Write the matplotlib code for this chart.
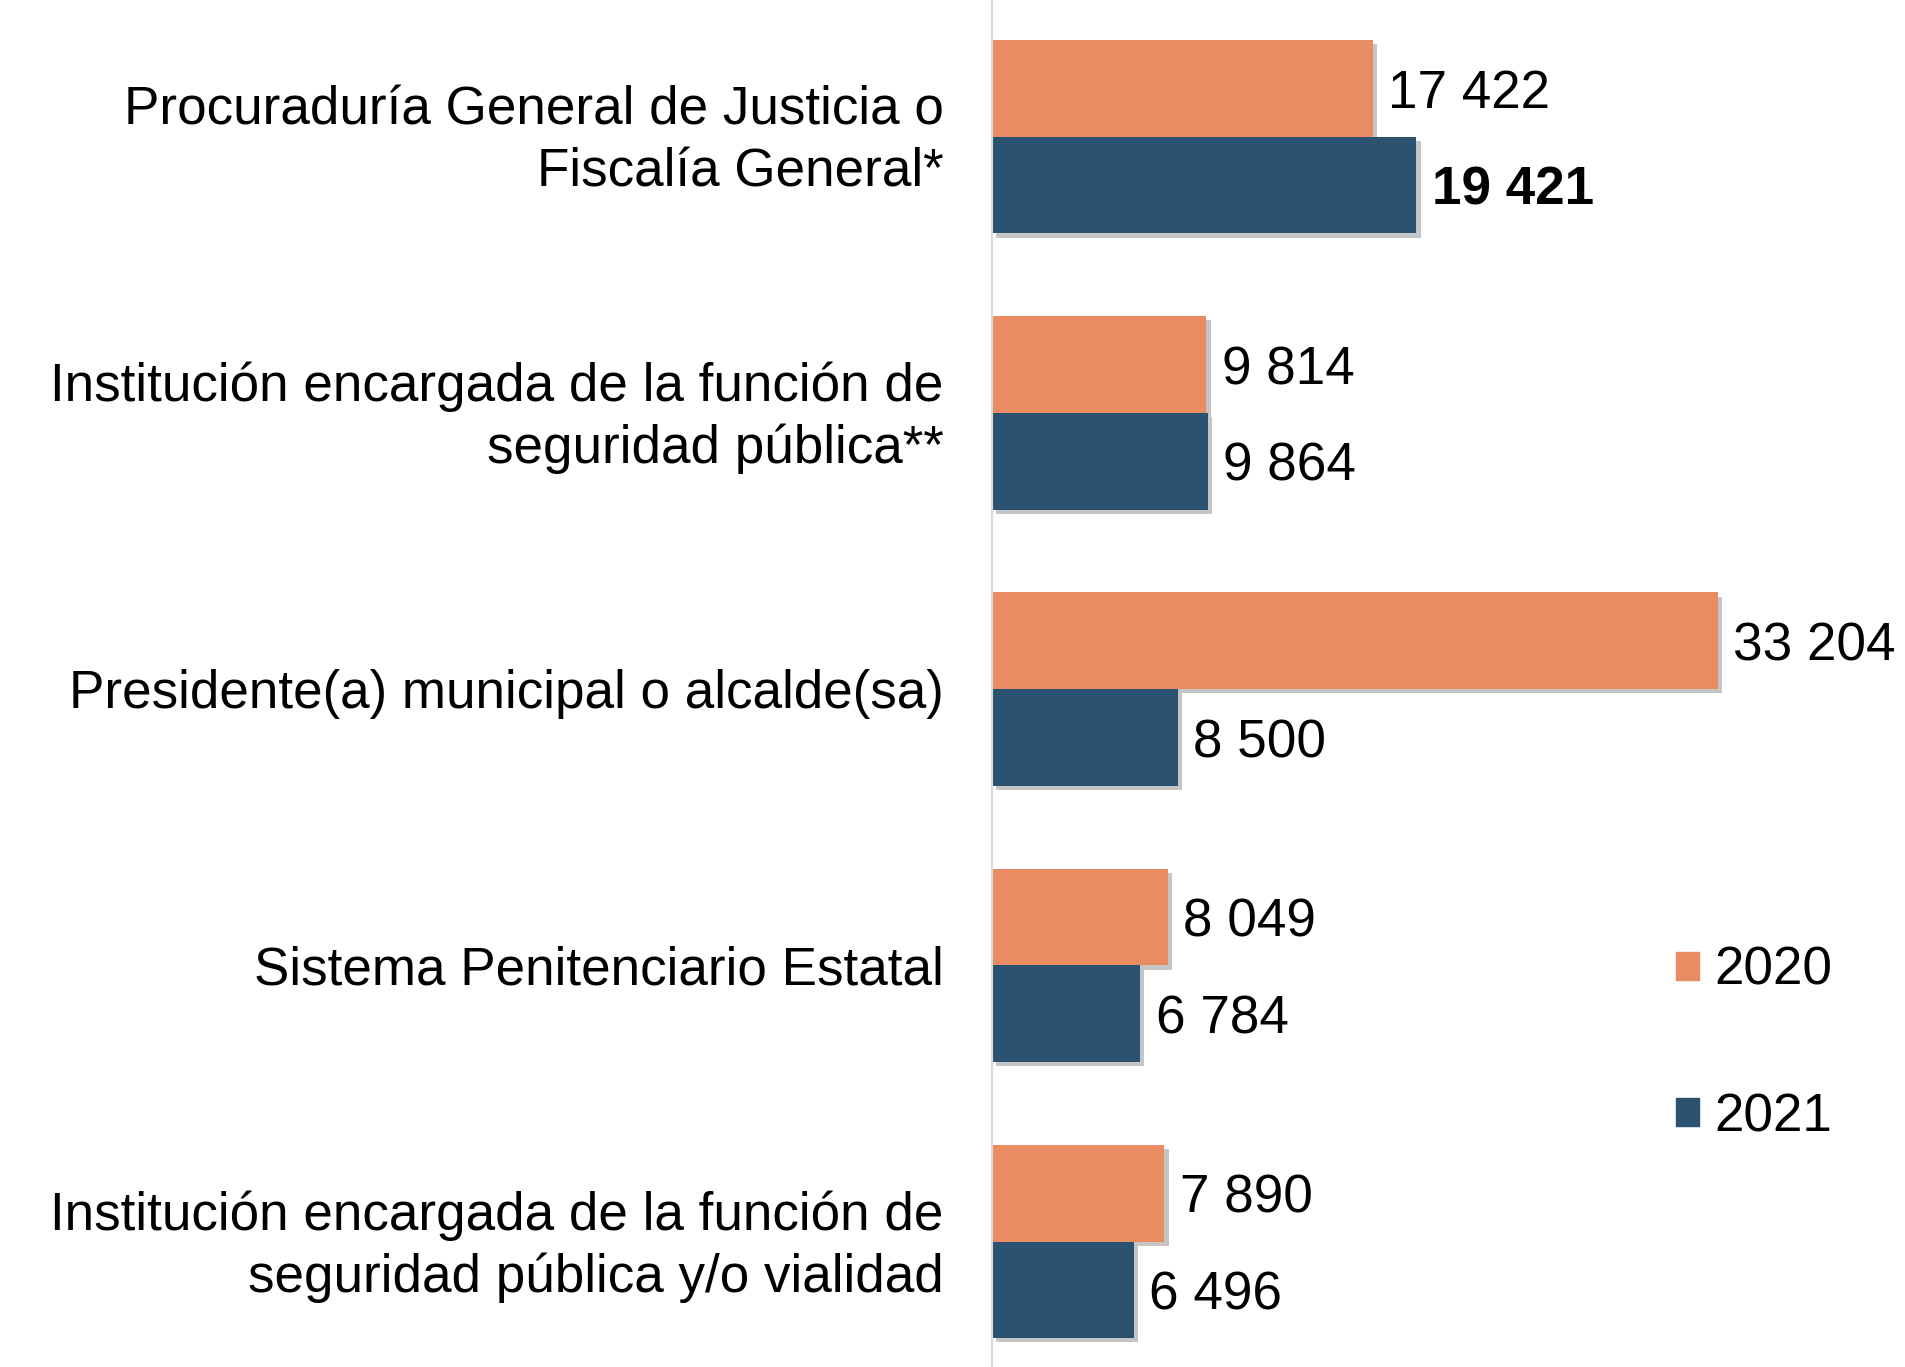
import numpy as np
import matplotlib.pyplot as plt
import matplotlib.patheffects as pe
from matplotlib.patches import Patch

plt.rcParams['font.family'] = ['Liberation Sans', 'DejaVu Sans']

categorias = ["Procuraduría General de Justicia o\nFiscalía General*",
              "Institución encargada de la función de\nseguridad pública**",
              "Presidente(a) municipal o alcalde(sa)",
              "Sistema Penitenciario Estatal",
              "Institución encargada de la función de\nseguridad pública y/o vialidad"]
anios = ["2020", "2021"]
v2020 = [17422, 9814, 33204, 8049, 7890]
v2021 = [19421, 9864, 8500, 6784, 6496]

c2020 = "#E98C62"
c2021 = "#2C5271"
fs = 38.2

fig = plt.figure(figsize=(19.06, 13.67), dpi=100)
ax = fig.add_axes([992 / 1906, 0, 1 - 992 / 1906, 1])

y = np.arange(len(categorias))
h = 0.35
sombra = [pe.SimplePatchShadow(offset=(3, -3), shadow_rgbFace="#6f6f6f", alpha=0.4), pe.Normal()]

b1 = ax.barh(y - h / 2, v2020, height=h, color=c2020, label=anios[0])
b2 = ax.barh(y + h / 2, v2021, height=h, color=c2021, label=anios[1])
for b in list(b1) + list(b2):
    b.set_path_effects(sombra)

# etiquetas de valor con espacio como separador de miles
fmt = lambda v: f"{v:,}".replace(",", " ")
for i, v in enumerate(v2020):
    ax.text(v + 700, y[i] - h / 2, fmt(v), va="center_baseline", ha="left", fontsize=fs)
for i, v in enumerate(v2021):
    ax.text(v + 700, y[i] + h / 2, fmt(v), va="center_baseline", ha="left", fontsize=fs,
            fontweight="bold" if i == 0 else "normal")

# nombres de las instituciones a la izquierda del eje
for yi, cat in zip(y, categorias):
    ax.annotate(cat, xy=(0, yi), xycoords=("axes fraction", "data"),
                xytext=(-35, -3.6), textcoords="offset points",
                ha="right", va="center", multialignment="right",
                fontsize=fs, linespacing=1.3, annotation_clip=False)

ax.set_ylim(4.454, -0.495)
ax.set_xlim(0, 41830)
ax.set_yticks([])
ax.set_xticks([])
for s in ["top", "right", "bottom"]:
    ax.spines[s].set_visible(False)
ax.spines["left"].set_color("#D9D9D9")
ax.spines["left"].set_linewidth(1.5)

handles = [Patch(color=c2020), Patch(color=c2021)]
fig.legend(handles, anios, loc="center left", bbox_to_anchor=(1628 / 1906, 1 - 1044 / 1367),
           frameon=False, fontsize=fs, handlelength=0.43, handleheight=0.43,
           handletextpad=0.3, labelspacing=1.82)

fig.savefig("out.png", dpi=100)
